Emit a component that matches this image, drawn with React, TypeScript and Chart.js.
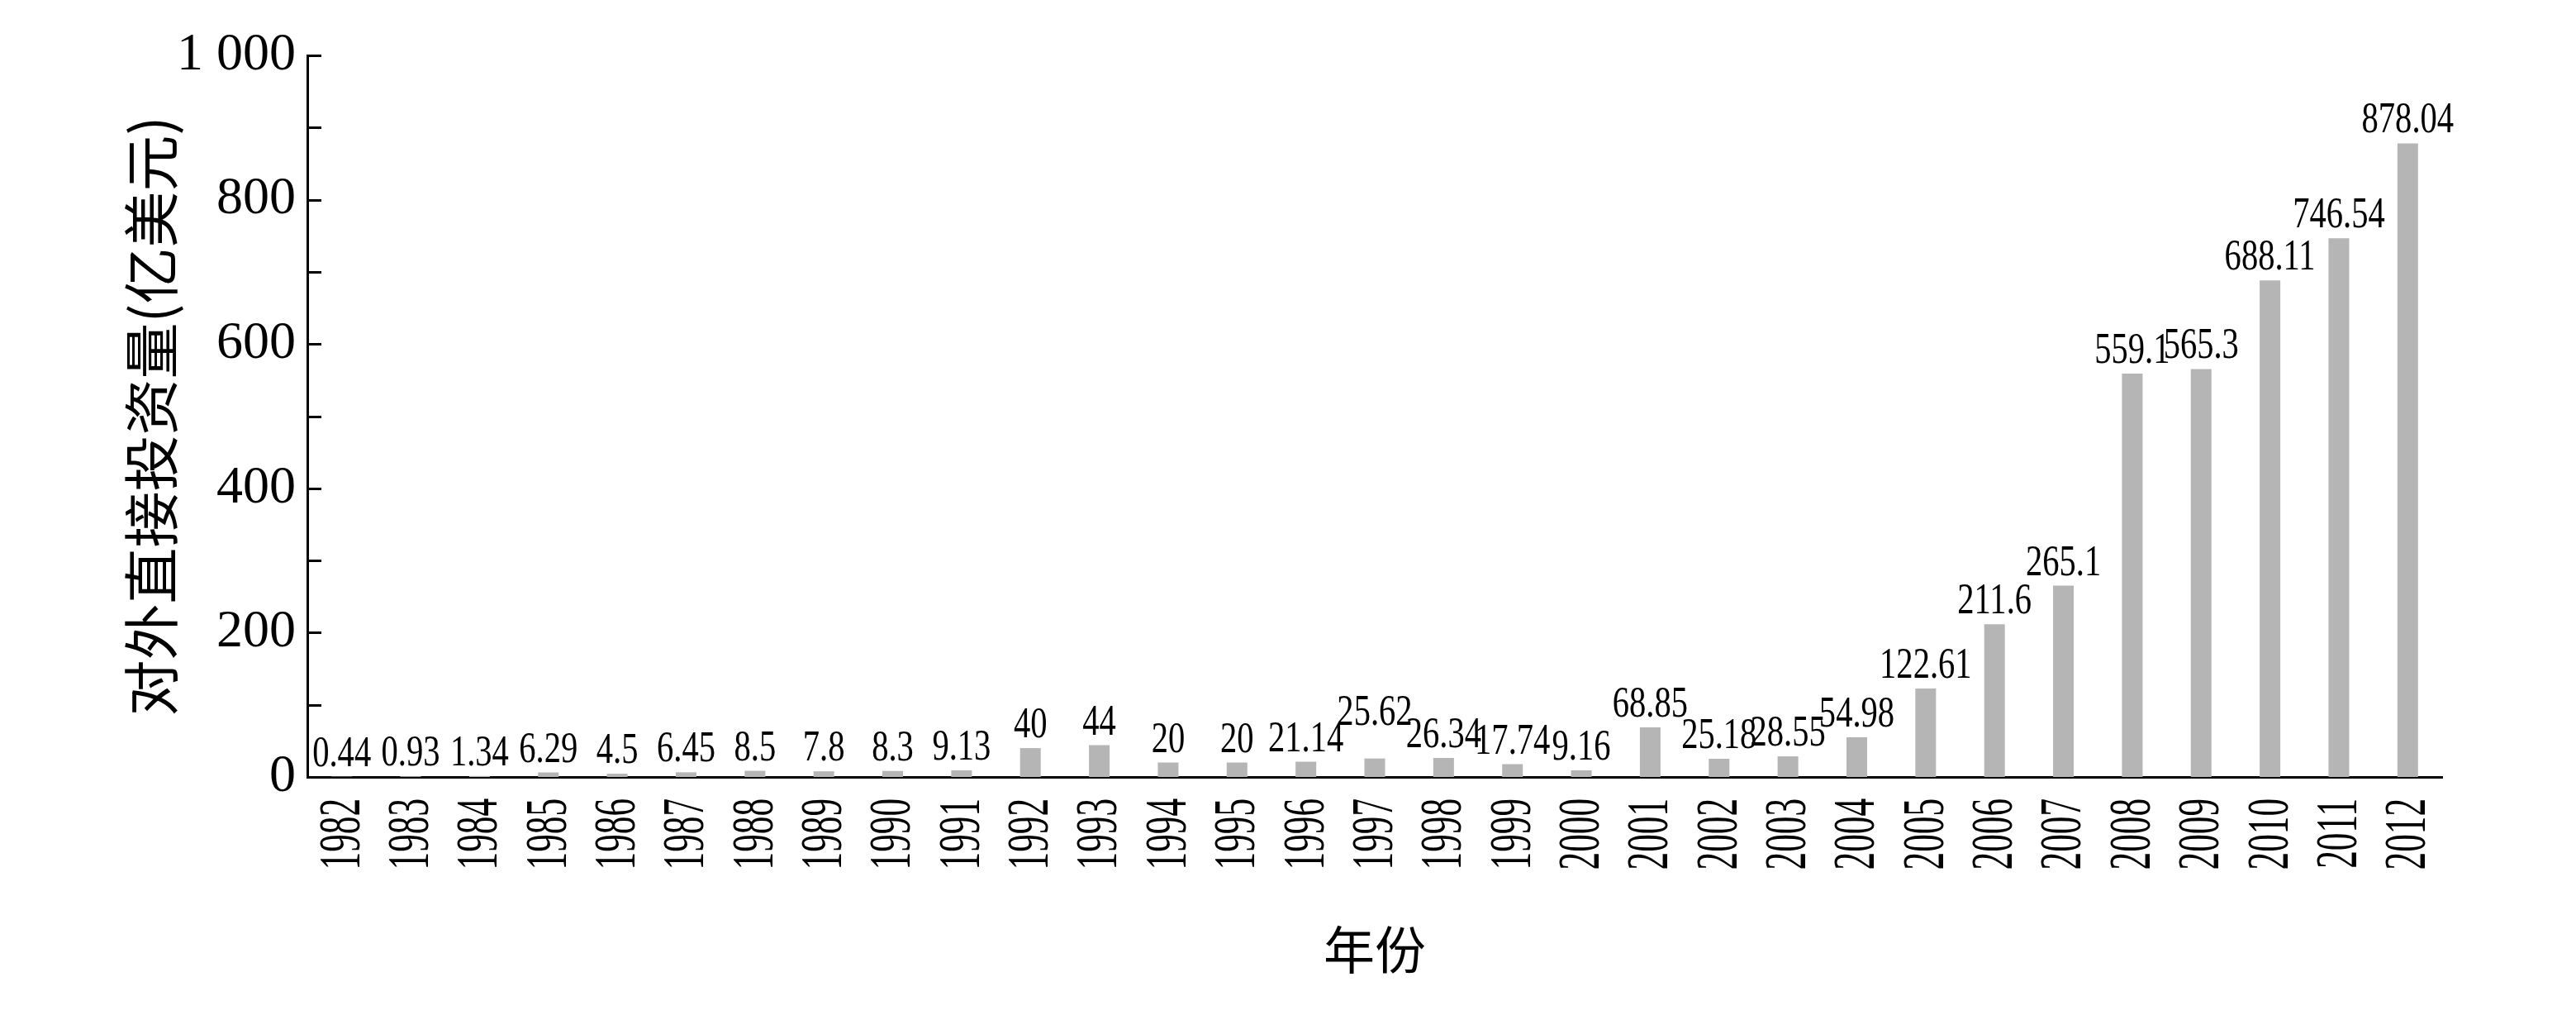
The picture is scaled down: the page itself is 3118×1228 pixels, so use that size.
import React, { useEffect, useRef } from "react";
import { Chart, registerables } from "chart.js";

Chart.register(...registerables);

const years: string[] = [
  "1982", "1983", "1984", "1985", "1986", "1987", "1988", "1989", "1990", "1991",
  "1992", "1993", "1994", "1995", "1996", "1997", "1998", "1999", "2000", "2001",
  "2002", "2003", "2004", "2005", "2006", "2007", "2008", "2009", "2010", "2011", "2012",
];

const fdiStock: number[] = [
  0.44, 0.93, 1.34, 6.29, 4.5, 6.45, 8.5, 7.8, 8.3, 9.13,
  40, 44, 20, 20, 21.14, 25.62, 26.34, 17.74, 9.16, 68.85,
  25.18, 28.55, 54.98, 122.61, 211.6, 265.1, 559.1, 565.3, 688.11, 746.54, 878.04,
];

const yTickLabels: Record<number, string> = {
  0: "0", 200: "200", 400: "400", 600: "600", 800: "800", 1000: "1 000",
};

const yTitle = "对外直接投资量(亿美元)";
const xTitle = "年份";

// extra lift (px) for labels that would collide with neighbours
const labelLift: Record<string, number> = { "1997": 28 };

const SERIF = "'Liberation Serif', 'Times New Roman', serif";
const CJK = "'Noto Sans CJK SC', 'Noto Sans', sans-serif";

const valueLabels = {
  id: "valueLabels",
  afterDatasetsDraw(chart: any) {
    const ctx = chart.ctx;
    const meta = chart.getDatasetMeta(0);
    ctx.save();
    ctx.fillStyle = "#000";
    ctx.font = `52px ${SERIF}`;
    ctx.textAlign = "center";
    ctx.textBaseline = "alphabetic";
    meta.data.forEach((bar: any, i: number) => {
      const lift = labelLift[years[i]] || 0;
      ctx.save();
      ctx.translate(bar.x, bar.y - 13 - lift);
      ctx.scale(0.78, 1);
      ctx.fillText(String(fdiStock[i]), 0, 0);
      ctx.restore();
    });
    ctx.restore();
  },
};

// condensed, rotated category labels drawn at the x scale's tick positions
const xLabels = {
  id: "xLabels",
  afterDraw(chart: any) {
    const ctx = chart.ctx;
    const xs = chart.scales.x;
    const top = chart.chartArea.bottom + 26;
    ctx.save();
    ctx.fillStyle = "#000";
    ctx.font = `72px ${SERIF}`;
    ctx.textAlign = "right";
    ctx.textBaseline = "middle";
    xs.ticks.forEach((_t: any, i: number) => {
      const x = xs.getPixelForTick(i);
      ctx.save();
      ctx.translate(x + 2, top);
      ctx.rotate(-Math.PI / 2);
      ctx.scale(0.6, 1);
      ctx.fillText(String(years[i]), 0, 0);
      ctx.restore();
    });
    ctx.restore();
  },
};

const inwardTicks = {
  id: "inwardTicks",
  afterDraw(chart: any) {
    const ctx = chart.ctx;
    const y = chart.scales.y;
    const left = chart.chartArea.left;
    ctx.save();
    ctx.strokeStyle = "#000";
    ctx.lineWidth = 3;
    y.ticks.forEach((t: any) => {
      if (t.value === 0) return;
      const py = Math.round(y.getPixelForValue(t.value)) + 0.5;
      ctx.beginPath();
      ctx.moveTo(left, py);
      ctx.lineTo(left + 17, py);
      ctx.stroke();
    });
    ctx.restore();
  },
};

export default function App() {
  const canvasRef = useRef<HTMLCanvasElement | null>(null);

  useEffect(() => {
    document.body.style.margin = "0";
    const canvas = canvasRef.current;
    if (!canvas) return;
    const chart = new Chart(canvas, {
      type: "bar",
      data: {
        labels: years,
        datasets: [
          {
            data: fdiStock,
            backgroundColor: "rgb(181,181,181)",
            borderWidth: 0,
            barPercentage: 0.3,
            categoryPercentage: 1,
          },
        ],
      },
      options: {
        responsive: false,
        animation: false,
        devicePixelRatio: 1,
        layout: { padding: { top: 67, right: 162, bottom: 0, left: 0 } },
        plugins: {
          legend: { display: false },
          tooltip: { enabled: false },
        },
        scales: {
          x: {
            offset: true,
            grid: { display: false, drawTicks: false },
            border: { display: true, color: "#000", width: 3 },
            ticks: {
              display: false,
              autoSkip: false,
            },
            title: {
              display: true,
              text: xTitle,
              color: "#000",
              font: { family: CJK, size: 62 },
              padding: { top: 0, bottom: 41 },
            },
            afterFit: (s: any) => {
              s.height = 1228 - 940;
            },
          },
          y: {
            min: 0,
            max: 1000,
            grid: { display: false, drawTicks: false },
            border: { display: true, color: "#000", width: 3 },
            ticks: {
              stepSize: 100,
              padding: 14,
              color: "#000",
              font: { family: SERIF, size: 64 },
              callback: (v: any) => (yTickLabels[v as number] ?? ""),
            },
            title: {
              display: true,
              text: yTitle,
              color: "#000",
              font: { family: CJK, size: 68 },
              padding: { top: 142, bottom: 0 },
            },
            afterFit: (s: any) => {
              s.width = 372;
            },
          },
        },
      },
      plugins: [valueLabels, xLabels, inwardTicks],
    });
    return () => chart.destroy();
  }, []);

  return (
    <canvas
      ref={canvasRef}
      width={3118}
      height={1228}
      style={{ display: "block", width: 3118, height: 1228 }}
    />
  );
}
